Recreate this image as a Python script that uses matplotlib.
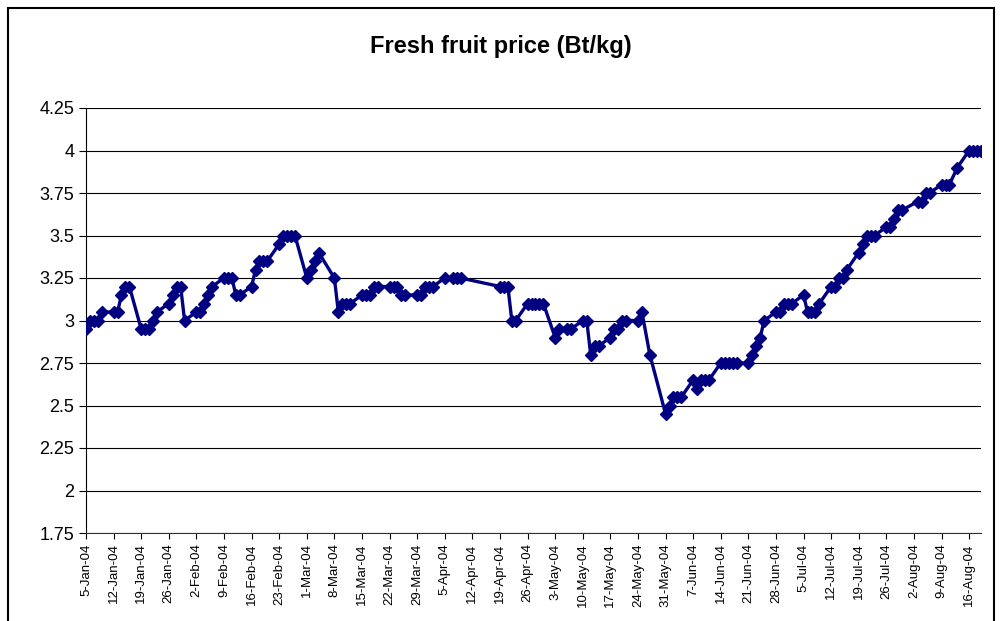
import datetime as dt
import matplotlib
matplotlib.use("Agg")
import matplotlib.pyplot as plt
import matplotlib.dates as mdates
from matplotlib.ticker import FuncFormatter
from matplotlib.patches import Rectangle

# trading days (2004, month-day) and price in Bt/kg
days = [
    "01-05", "01-06", "01-07", "01-08", "01-09", "01-12", "01-13", "01-14", "01-15", "01-16",
    "01-19", "01-20", "01-21", "01-22", "01-23", "01-26", "01-27", "01-28", "01-29", "01-30",
    "02-02", "02-03", "02-04", "02-05", "02-06", "02-09", "02-10", "02-11", "02-12", "02-13",
    "02-16", "02-17", "02-18", "02-19", "02-20", "02-23", "02-24", "02-25", "02-26", "02-27",
    "03-01", "03-02", "03-03", "03-04", "03-08", "03-09", "03-10", "03-11", "03-12",
    "03-15", "03-16", "03-17", "03-18", "03-19", "03-22", "03-23", "03-24", "03-25", "03-26",
    "03-29", "03-30", "03-31", "04-01", "04-02", "04-05", "04-07", "04-08", "04-09",
    "04-19", "04-20", "04-21", "04-22", "04-23", "04-26", "04-27", "04-28", "04-29", "04-30",
    "05-03", "05-04", "05-06", "05-07", "05-10", "05-11", "05-12", "05-13", "05-14",
    "05-17", "05-18", "05-19", "05-20", "05-21", "05-24", "05-25", "05-27", "05-31",
    "06-01", "06-02", "06-03", "06-04", "06-07", "06-08", "06-09", "06-10", "06-11",
    "06-14", "06-15", "06-16", "06-17", "06-18", "06-21", "06-22", "06-23", "06-24", "06-25",
    "06-28", "06-29", "06-30", "07-01", "07-02", "07-05", "07-06", "07-07", "07-08", "07-09",
    "07-12", "07-13", "07-14", "07-15", "07-16", "07-19", "07-20", "07-21", "07-22", "07-23",
    "07-26", "07-27", "07-28", "07-29", "07-30", "08-03", "08-04", "08-05", "08-06",
    "08-09", "08-10", "08-11", "08-13", "08-16", "08-17", "08-18", "08-19",
]
prices = [
    2.95, 3.0, 3.0, 3.0, 3.05, 3.05, 3.05, 3.15, 3.2, 3.2,
    2.95, 2.95, 2.95, 3.0, 3.05, 3.1, 3.15, 3.2, 3.2, 3.0,
    3.05, 3.05, 3.1, 3.15, 3.2, 3.25, 3.25, 3.25, 3.15, 3.15,
    3.2, 3.3, 3.35, 3.35, 3.35, 3.45, 3.5, 3.5, 3.5, 3.5,
    3.25, 3.3, 3.35, 3.4, 3.25, 3.05, 3.1, 3.1, 3.1,
    3.15, 3.15, 3.15, 3.2, 3.2, 3.2, 3.2, 3.2, 3.15, 3.15,
    3.15, 3.15, 3.2, 3.2, 3.2, 3.25, 3.25, 3.25, 3.25,
    3.2, 3.2, 3.2, 3.0, 3.0, 3.1, 3.1, 3.1, 3.1, 3.1,
    2.9, 2.95, 2.95, 2.95, 3.0, 3.0, 2.8, 2.85, 2.85,
    2.9, 2.95, 2.95, 3.0, 3.0, 3.0, 3.05, 2.8, 2.45,
    2.5, 2.55, 2.55, 2.55, 2.65, 2.6, 2.65, 2.65, 2.65,
    2.75, 2.75, 2.75, 2.75, 2.75, 2.75, 2.8, 2.85, 2.9, 3.0,
    3.05, 3.05, 3.1, 3.1, 3.1, 3.15, 3.05, 3.05, 3.05, 3.1,
    3.2, 3.2, 3.25, 3.25, 3.3, 3.4, 3.45, 3.5, 3.5, 3.5,
    3.55, 3.55, 3.6, 3.65, 3.65, 3.7, 3.7, 3.75, 3.75,
    3.8, 3.8, 3.8, 3.9, 4.0, 4.0, 4.0, 4.0,
]
y_ticks = [1.75, 2, 2.25, 2.5, 2.75, 3, 3.25, 3.5, 3.75, 4, 4.25]

dates = [dt.date(2004, int(d[:2]), int(d[3:])) for d in days]

fig = plt.figure(figsize=(10.02, 6.21), dpi=100)
ax = fig.add_axes([86 / 1002, 1 - 533 / 621, (981 - 86) / 1002, (533 - 108) / 621])

ax.plot(dates, prices, color="#000080", lw=2.4, marker="D", ms=6.5,
        markerfacecolor="#000080", markeredgecolor="#000080", zorder=3)

ax.set_ylim(1.75, 4.25)
ax.set_yticks(y_ticks)
ax.yaxis.set_major_formatter(FuncFormatter(lambda v, p: f"{v:g}"))
ax.grid(axis="y", color="black", lw=0.8)
ax.set_axisbelow(True)

ax.set_xlim(dt.date(2004, 1, 5), dt.date(2004, 8, 19) + dt.timedelta(hours=12))
ax.xaxis.set_major_locator(mdates.WeekdayLocator(byweekday=mdates.MO, interval=1))
ax.xaxis.set_major_formatter(FuncFormatter(
    lambda v, p: f"{mdates.num2date(v).day}-{mdates.num2date(v).strftime('%b-%y')}"))
ax.tick_params(axis="x", labelrotation=90, labelsize=9.5, length=4, direction="out")
ax.tick_params(axis="y", labelsize=13, length=5, direction="out")

for s in ["top", "right"]:
    ax.spines[s].set_visible(False)
ax.spines["left"].set_color("black")
ax.spines["bottom"].set_color("#333333")

fig.text(0.5, 1 - 47 / 621, "Fresh fruit price (Bt/kg)", ha="center", va="center",
         fontsize=17, fontweight="bold", family="Liberation Sans")
for t in ax.get_xticklabels() + ax.get_yticklabels():
    t.set_family("Liberation Sans")

fig.patches.append(Rectangle((8 / 1002, -0.05), 986 / 1002, 1.05 - 8 / 621,
                             transform=fig.transFigure, fill=False,
                             edgecolor="black", lw=1.5))

fig.savefig("out.png", dpi=100)
